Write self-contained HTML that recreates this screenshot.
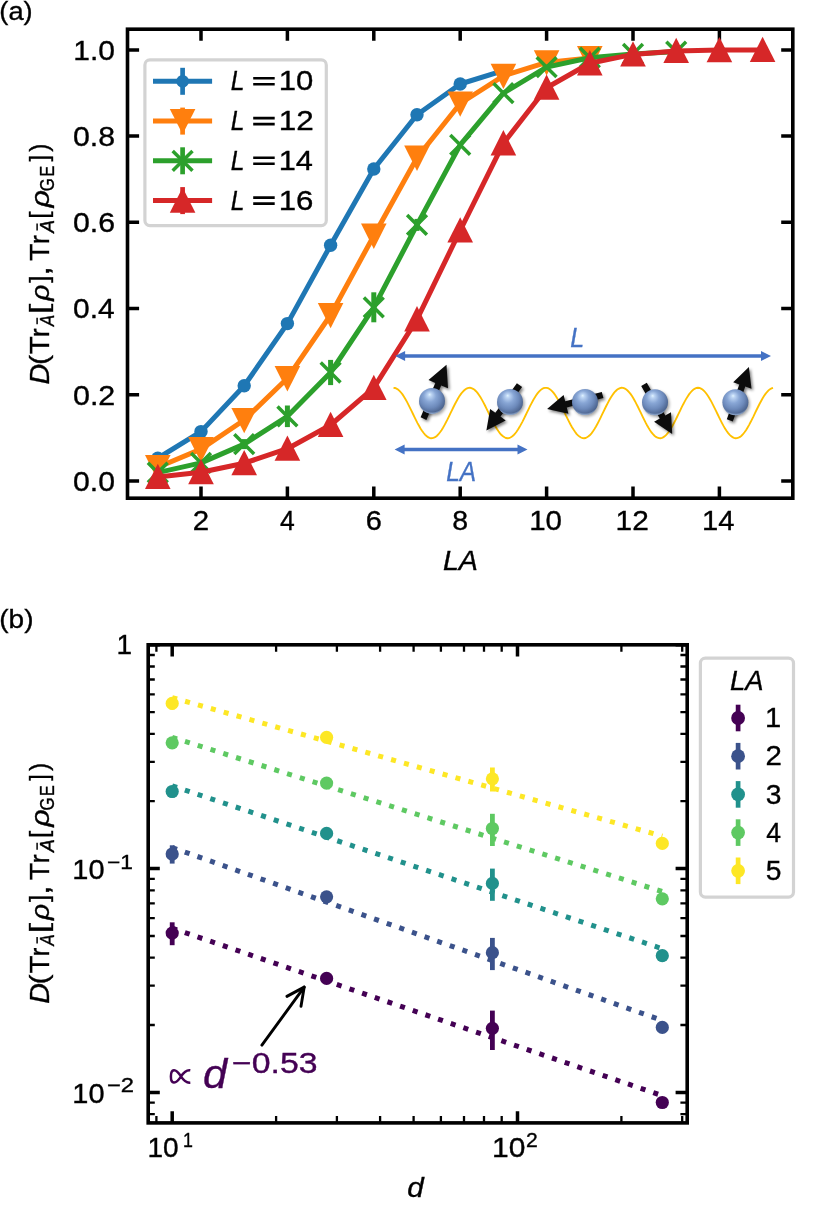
<!DOCTYPE html>
<html><head><meta charset="utf-8"><title>figure</title>
<style>
html,body{margin:0;padding:0;background:#fff;}
body{width:830px;height:1210px;overflow:hidden;font-family:"Liberation Sans",sans-serif;}
svg{display:block;will-change:transform;}
text{font-family:"Liberation Sans",sans-serif;stroke-width:0.35px;paint-order:stroke;}
</style></head><body>
<svg width="830" height="1210" viewBox="0 0 830 1210">
<defs>
<radialGradient id="ball" cx="0.44" cy="0.42" r="0.72" fx="0.41" fy="0.25">
<stop offset="0" stop-color="#e0f4ff"/><stop offset="0.1" stop-color="#bcd4f3"/><stop offset="0.33" stop-color="#88a6d5"/><stop offset="0.58" stop-color="#6d8abb"/><stop offset="0.82" stop-color="#4d658f"/><stop offset="1" stop-color="#3a4e70"/>
</radialGradient>
<radialGradient id="rim" cx="0.5" cy="0.36" r="0.655">
<stop offset="0.86" stop-color="#b4cff2" stop-opacity="0"/><stop offset="1" stop-color="#b9d3f5" stop-opacity="0.9"/>
</radialGradient>
<filter id="sh" x="-30%" y="-30%" width="170%" height="170%"><feGaussianBlur stdDeviation="1.6"/></filter>
</defs>
<rect x="0" y="0" width="830" height="1210" fill="#fff"/>

<g id="panelA">
<path d="M201.0,498.2V486.59999999999997M201.0,29.2V40.8M287.4,498.2V486.59999999999997M287.4,29.2V40.8M373.8,498.2V486.59999999999997M373.8,29.2V40.8M460.2,498.2V486.59999999999997M460.2,29.2V40.8M546.6,498.2V486.59999999999997M546.6,29.2V40.8M633.0,498.2V486.59999999999997M633.0,29.2V40.8M719.4,498.2V486.59999999999997M719.4,29.2V40.8M127.5,481.0H139.1M792.8,481.0H781.1999999999999M127.5,394.8H139.1M792.8,394.8H781.1999999999999M127.5,308.6H139.1M792.8,308.6H781.1999999999999M127.5,222.3H139.1M792.8,222.3H781.1999999999999M127.5,136.1H139.1M792.8,136.1H781.1999999999999M127.5,49.9H139.1M792.8,49.9H781.1999999999999" stroke="#000" stroke-width="3.5" fill="none"/>
<polyline points="157.8,458.2 201.0,431.6 244.2,385.8 287.4,323.6 330.6,245.2 373.8,169.0 417.0,114.8 460.2,84.0 503.4,70.6" fill="none" stroke="#1f77b4" stroke-width="5.0" stroke-linejoin="round" stroke-linecap="square"/>
<circle cx="157.8" cy="458.2" r="6.7" fill="#1f77b4"/>
<circle cx="201.0" cy="431.6" r="6.7" fill="#1f77b4"/>
<circle cx="244.2" cy="385.8" r="6.7" fill="#1f77b4"/>
<circle cx="287.4" cy="323.6" r="6.7" fill="#1f77b4"/>
<circle cx="330.6" cy="245.2" r="6.7" fill="#1f77b4"/>
<circle cx="373.8" cy="169.0" r="6.7" fill="#1f77b4"/>
<circle cx="417.0" cy="114.8" r="6.7" fill="#1f77b4"/>
<circle cx="460.2" cy="84.0" r="6.7" fill="#1f77b4"/>
<circle cx="503.4" cy="70.6" r="6.7" fill="#1f77b4"/>
<polyline points="157.8,467.2 201.0,449.1 244.2,420.0 287.4,378.2 330.6,315.0 373.8,235.7 417.0,157.7 460.2,103.5 503.4,75.8 546.6,62.4 589.8,58.1" fill="none" stroke="#ff7f0e" stroke-width="5.0" stroke-linejoin="round" stroke-linecap="square"/>
<polygon points="157.8,480.4 145.0,455.1 170.6,455.1" fill="#ff7f0e"/>
<polygon points="201.0,462.3 188.2,437.0 213.8,437.0" fill="#ff7f0e"/>
<polygon points="244.2,433.2 231.4,407.9 257.0,407.9" fill="#ff7f0e"/>
<polygon points="287.4,391.4 274.6,366.1 300.2,366.1" fill="#ff7f0e"/>
<polygon points="330.6,328.2 317.8,302.9 343.4,302.9" fill="#ff7f0e"/>
<polygon points="373.8,248.9 361.0,223.6 386.6,223.6" fill="#ff7f0e"/>
<polygon points="417.0,170.9 404.2,145.6 429.8,145.6" fill="#ff7f0e"/>
<polygon points="460.2,116.7 447.4,91.4 473.0,91.4" fill="#ff7f0e"/>
<polygon points="503.4,89.0 490.6,63.7 516.2,63.7" fill="#ff7f0e"/>
<polygon points="546.6,75.6 533.8,50.3 559.4,50.3" fill="#ff7f0e"/>
<polygon points="589.8,71.3 577.0,46.0 602.6,46.0" fill="#ff7f0e"/>
<polyline points="157.8,472.6 201.0,462.9 244.2,444.1 287.4,416.3 330.6,372.5 373.8,307.3 417.0,224.9 460.2,144.9 503.4,93.1 546.6,67.1 589.8,57.7 633.0,54.0 676.2,51.6" fill="none" stroke="#2ca02c" stroke-width="5.0" stroke-linejoin="round" stroke-linecap="square"/>
<path d="M147.9,462.7L167.7,482.5M147.9,482.5L167.7,462.7" stroke="#2ca02c" stroke-width="3.5" fill="none" stroke-linecap="butt"/>
<path d="M191.1,453.0L210.9,472.8M191.1,472.8L210.9,453.0" stroke="#2ca02c" stroke-width="3.5" fill="none" stroke-linecap="butt"/>
<line x1="244.2" y1="439.1" x2="244.2" y2="449.1" stroke="#2ca02c" stroke-width="5.0"/>
<path d="M234.3,434.2L254.1,454.0M234.3,454.0L254.1,434.2" stroke="#2ca02c" stroke-width="3.5" fill="none" stroke-linecap="butt"/>
<line x1="287.4" y1="405.5" x2="287.4" y2="427.1" stroke="#2ca02c" stroke-width="5.0"/>
<path d="M277.5,406.4L297.3,426.2M277.5,426.2L297.3,406.4" stroke="#2ca02c" stroke-width="3.5" fill="none" stroke-linecap="butt"/>
<line x1="330.6" y1="359.9" x2="330.6" y2="385.1" stroke="#2ca02c" stroke-width="5.0"/>
<path d="M320.7,362.6L340.5,382.4M320.7,382.4L340.5,362.6" stroke="#2ca02c" stroke-width="3.5" fill="none" stroke-linecap="butt"/>
<line x1="373.8" y1="292.3" x2="373.8" y2="322.3" stroke="#2ca02c" stroke-width="5.0"/>
<path d="M363.9,297.4L383.7,317.2M363.9,317.2L383.7,297.4" stroke="#2ca02c" stroke-width="3.5" fill="none" stroke-linecap="butt"/>
<line x1="417.0" y1="218.9" x2="417.0" y2="230.9" stroke="#2ca02c" stroke-width="5.0"/>
<path d="M407.1,215.0L426.9,234.8M407.1,234.8L426.9,215.0" stroke="#2ca02c" stroke-width="3.5" fill="none" stroke-linecap="butt"/>
<path d="M450.3,135.0L470.1,154.8M450.3,154.8L470.1,135.0" stroke="#2ca02c" stroke-width="3.5" fill="none" stroke-linecap="butt"/>
<path d="M493.5,83.2L513.3,103.0M493.5,103.0L513.3,83.2" stroke="#2ca02c" stroke-width="3.5" fill="none" stroke-linecap="butt"/>
<path d="M536.7,57.2L556.5,77.0M536.7,77.0L556.5,57.2" stroke="#2ca02c" stroke-width="3.5" fill="none" stroke-linecap="butt"/>
<path d="M579.9,47.8L599.7,67.6M579.9,67.6L599.7,47.8" stroke="#2ca02c" stroke-width="3.5" fill="none" stroke-linecap="butt"/>
<path d="M623.1,44.1L642.9,63.9M623.1,63.9L642.9,44.1" stroke="#2ca02c" stroke-width="3.5" fill="none" stroke-linecap="butt"/>
<path d="M666.3,41.7L686.1,61.5M666.3,61.5L686.1,41.7" stroke="#2ca02c" stroke-width="3.5" fill="none" stroke-linecap="butt"/>
<polyline points="157.8,476.9 201.0,472.2 244.2,463.2 287.4,448.7 330.6,425.0 373.8,387.9 417.0,319.3 460.2,230.5 503.4,143.3 546.6,87.7 589.8,63.3 633.0,54.4 676.2,51.0 719.4,50.1 762.6,49.9" fill="none" stroke="#d62728" stroke-width="5.0" stroke-linejoin="round" stroke-linecap="square"/>
<polygon points="157.8,463.7 145.0,489.0 170.6,489.0" fill="#d62728"/>
<polygon points="201.0,459.0 188.2,484.3 213.8,484.3" fill="#d62728"/>
<polygon points="244.2,450.0 231.4,475.3 257.0,475.3" fill="#d62728"/>
<polygon points="287.4,435.5 274.6,460.8 300.2,460.8" fill="#d62728"/>
<polygon points="330.6,411.8 317.8,437.1 343.4,437.1" fill="#d62728"/>
<polygon points="373.8,374.7 361.0,400.0 386.6,400.0" fill="#d62728"/>
<polygon points="417.0,306.1 404.2,331.4 429.8,331.4" fill="#d62728"/>
<polygon points="460.2,217.3 447.4,242.6 473.0,242.6" fill="#d62728"/>
<polygon points="503.4,130.1 490.6,155.4 516.2,155.4" fill="#d62728"/>
<polygon points="546.6,74.5 533.8,99.8 559.4,99.8" fill="#d62728"/>
<polygon points="589.8,50.1 577.0,75.4 602.6,75.4" fill="#d62728"/>
<polygon points="633.0,41.2 620.2,66.5 645.8,66.5" fill="#d62728"/>
<polygon points="676.2,37.8 663.4,63.1 689.0,63.1" fill="#d62728"/>
<polygon points="719.4,36.9 706.6,62.2 732.2,62.2" fill="#d62728"/>
<polygon points="762.6,36.7 749.8,62.0 775.4,62.0" fill="#d62728"/>
<line x1="404.1" y1="355.9" x2="762.0" y2="355.9" stroke="#4472c4" stroke-width="3.5"/>
<polygon points="395.1,355.9 405.1,350.9 405.1,360.9" fill="#4472c4"/>
<polygon points="771.0,355.9 761.0,350.9 761.0,360.9" fill="#4472c4"/>
<line x1="403.6" y1="449.6" x2="518.5" y2="449.6" stroke="#4472c4" stroke-width="3.5"/>
<polygon points="394.6,449.6 404.6,444.6 404.6,454.6" fill="#4472c4"/>
<polygon points="527.5,449.6 517.5,444.6 517.5,454.6" fill="#4472c4"/>
<polyline points="393.5,387.8 395.0,388.0 396.5,388.6 398.0,389.5 399.5,390.8 401.0,392.5 402.5,394.4 404.0,396.7 405.5,399.2 407.0,401.9 408.5,404.8 410.0,407.8 411.5,410.9 413.0,414.0 414.5,417.1 416.0,420.1 417.5,423.1 419.0,425.8 420.5,428.4 422.0,430.8 423.5,432.8 425.0,434.6 426.5,436.0 428.0,437.1 429.5,437.8 431.0,438.2 432.5,438.1 434.0,437.7 435.5,436.9 437.0,435.7 438.5,434.2 440.0,432.3 441.5,430.2 443.0,427.8 444.5,425.1 446.0,422.3 447.5,419.4 449.0,416.3 450.5,413.2 452.0,410.1 453.5,407.0 455.0,404.0 456.5,401.2 458.0,398.5 459.5,396.1 461.0,393.9 462.5,392.0 464.0,390.5 465.5,389.2 467.0,388.4 468.5,387.9 470.0,387.8 471.5,388.1 473.0,388.8 474.5,389.8 476.0,391.2 477.5,392.9 479.0,395.0 480.5,397.3 482.0,399.9 483.5,402.6 485.0,405.5 486.5,408.6 488.0,411.6 489.5,414.8 491.0,417.9 492.5,420.9 494.0,423.8 495.5,426.5 497.0,429.0 498.5,431.3 500.0,433.3 501.5,435.0 503.0,436.3 504.5,437.3 506.0,438.0 507.5,438.2 509.0,438.1 510.5,437.5 512.0,436.6 513.5,435.3 515.0,433.7 516.5,431.8 518.0,429.6 519.5,427.1 521.0,424.4 522.5,421.6 524.0,418.6 525.5,415.5 527.0,412.4 528.5,409.3 530.0,406.2 531.5,403.3 533.0,400.5 534.5,397.9 536.0,395.5 537.5,393.4 539.0,391.6 540.5,390.1 542.0,389.0 543.5,388.2 545.0,387.8 546.5,387.8 548.0,388.2 549.5,389.0 551.0,390.1 552.5,391.6 554.0,393.4 555.5,395.5 557.0,397.9 558.5,400.5 560.0,403.3 561.5,406.3 563.0,409.3 564.5,412.4 566.0,415.6 567.5,418.6 569.0,421.6 570.5,424.5 572.0,427.2 573.5,429.6 575.0,431.8 576.5,433.8 578.0,435.4 579.5,436.6 581.0,437.5 582.5,438.1 584.0,438.2 585.5,438.0 587.0,437.3 588.5,436.3 590.0,435.0 591.5,433.3 593.0,431.3 594.5,429.0 596.0,426.5 597.5,423.7 599.0,420.8 600.5,417.8 602.0,414.7 603.5,411.6 605.0,408.5 606.5,405.5 608.0,402.6 609.5,399.8 611.0,397.3 612.5,395.0 614.0,392.9 615.5,391.2 617.0,389.8 618.5,388.8 620.0,388.1 621.5,387.8 623.0,387.9 624.5,388.4 626.0,389.3 627.5,390.5 629.0,392.1 630.5,393.9 632.0,396.1 633.5,398.6 635.0,401.2 636.5,404.1 638.0,407.0 639.5,410.1 641.0,413.2 642.5,416.3 644.0,419.4 645.5,422.4 647.0,425.2 648.5,427.8 650.0,430.2 651.5,432.4 653.0,434.2 654.5,435.7 656.0,436.9 657.5,437.7 659.0,438.1 660.5,438.2 662.0,437.8 663.5,437.1 665.0,436.0 666.5,434.6 668.0,432.8 669.5,430.7 671.0,428.4 672.5,425.8 674.0,423.0 675.5,420.1 677.0,417.0 678.5,413.9 680.0,410.8 681.5,407.7 683.0,404.7 684.5,401.9 686.0,399.1 687.5,396.7 689.0,394.4 690.5,392.5 692.0,390.8 693.5,389.5 695.0,388.6 696.5,388.0 698.0,387.8 699.5,388.0 701.0,388.6 702.5,389.5 704.0,390.8 705.5,392.5 707.0,394.5 708.5,396.7 710.0,399.2 711.5,401.9 713.0,404.8 714.5,407.8 716.0,410.9 717.5,414.0 719.0,417.1 720.5,420.2 722.0,423.1 723.5,425.9 725.0,428.4 726.5,430.8 728.0,432.9 729.5,434.6 731.0,436.1 732.5,437.1 734.0,437.8 735.5,438.2 737.0,438.1 738.5,437.7 740.0,436.9 741.5,435.7 743.0,434.2 744.5,432.3 746.0,430.2 747.5,427.7 749.0,425.1 750.5,422.3 752.0,419.3 753.5,416.3 755.0,413.1 756.5,410.0 758.0,407.0 759.5,404.0 761.0,401.2 762.5,398.5 764.0,396.1 765.5,393.9 767.0,392.0 768.5,390.4 770.0,389.2 771.5,388.4 773.0,387.9" fill="none" stroke="#ffc000" stroke-width="1.85"/>
<path d="M426.4,419.9L441.2,385.4L448.0,388.3L446.5,364.8L428.5,379.9L435.3,382.9L420.6,417.3Z" fill="#000" opacity="0.5" filter="url(#sh)" transform="translate(1.7,1.9)"/>
<path d="M426.4,419.9L441.2,385.4L448.0,388.3L446.5,364.8L428.5,379.9L435.3,382.9L420.6,417.3Z" fill="#0c0c0c"/>
<circle cx="433.5" cy="402.7" r="13.0" fill="#000" opacity="0.35" filter="url(#sh)"/>
<circle cx="432.0" cy="400.9" r="13.0" fill="url(#ball)"/>
<circle cx="432.0" cy="400.9" r="13.0" fill="url(#rim)"/>
<path d="M516.9,383.3L495.3,412.8L490.1,408.9L486.4,430.4L505.7,420.4L500.5,416.6L522.1,387.1Z" fill="#000" opacity="0.5" filter="url(#sh)" transform="translate(1.7,1.9)"/>
<path d="M516.9,383.3L495.3,412.8L490.1,408.9L486.4,430.4L505.7,420.4L500.5,416.6L522.1,387.1Z" fill="#0c0c0c"/>
<circle cx="511.5" cy="403.8" r="13.0" fill="#000" opacity="0.35" filter="url(#sh)"/>
<circle cx="510.0" cy="402.0" r="13.0" fill="url(#ball)"/>
<circle cx="510.0" cy="402.0" r="13.0" fill="url(#rim)"/>
<path d="M601.8,391.9L565.2,401.2L563.6,394.9L547.1,409.1L568.4,413.7L566.8,407.4L603.4,398.1Z" fill="#000" opacity="0.5" filter="url(#sh)" transform="translate(1.7,1.9)"/>
<path d="M601.8,391.9L565.2,401.2L563.6,394.9L547.1,409.1L568.4,413.7L566.8,407.4L603.4,398.1Z" fill="#0c0c0c"/>
<circle cx="586.5" cy="403.8" r="13.0" fill="#000" opacity="0.35" filter="url(#sh)"/>
<circle cx="585.0" cy="402.0" r="13.0" fill="url(#ball)"/>
<circle cx="585.0" cy="402.0" r="13.0" fill="url(#rim)"/>
<path d="M641.2,385.9L659.8,418.5L654.1,421.7L672.2,433.9L671.0,412.2L665.3,415.4L646.8,382.7Z" fill="#000" opacity="0.5" filter="url(#sh)" transform="translate(1.7,1.9)"/>
<path d="M641.2,385.9L659.8,418.5L654.1,421.7L672.2,433.9L671.0,412.2L665.3,415.4L646.8,382.7Z" fill="#0c0c0c"/>
<circle cx="656.5" cy="404.0" r="13.0" fill="#000" opacity="0.35" filter="url(#sh)"/>
<circle cx="655.0" cy="402.2" r="13.0" fill="url(#ball)"/>
<circle cx="655.0" cy="402.2" r="13.0" fill="url(#rim)"/>
<path d="M732.8,421.5L745.3,386.5L751.5,388.7L748.9,367.1L733.2,382.2L739.3,384.4L726.8,419.3Z" fill="#000" opacity="0.5" filter="url(#sh)" transform="translate(1.7,1.9)"/>
<path d="M732.8,421.5L745.3,386.5L751.5,388.7L748.9,367.1L733.2,382.2L739.3,384.4L726.8,419.3Z" fill="#0c0c0c"/>
<circle cx="736.9" cy="404.0" r="13.0" fill="#000" opacity="0.35" filter="url(#sh)"/>
<circle cx="735.4" cy="402.2" r="13.0" fill="url(#ball)"/>
<circle cx="735.4" cy="402.2" r="13.0" fill="url(#rim)"/>
<text transform="translate(570.25,346.60) scale(0.9066,1)" font-size="27.64" fill="#4472c4" stroke="#4472c4" font-style="italic">L</text>
<text transform="translate(446.27,480.60) scale(0.8843,1)" font-size="27.64" fill="#4472c4" stroke="#4472c4" font-style="italic">LA</text>
<rect x="127.5" y="29.2" width="665.3" height="469.0" fill="none" stroke="#000" stroke-width="3.6"/>
<rect x="144.9" y="59.9" width="181.4" height="165.7" rx="5" ry="5" fill="#fff" fill-opacity="0.8" stroke="#d3d3d3" stroke-width="3.2"/>
<line x1="153" y1="81.3" x2="212.1" y2="81.3" stroke="#1f77b4" stroke-width="5.0"/>
<line x1="182.6" y1="67.8" x2="182.6" y2="94.8" stroke="#1f77b4" stroke-width="4.7"/>
<circle cx="182.6" cy="81.3" r="6.3" fill="#1f77b4"/>
<text transform="translate(230.86,90.40) scale(0.8907,1)" font-size="27.64" fill="#000" stroke="#000" font-style="italic">L</text>
<path d="M253.2,78.3H274.7M253.2,84.3H274.7" stroke="#000" stroke-width="2.6" fill="none"/>
<text transform="translate(278.67,90.40) scale(1.1409,1)" font-size="27.24" fill="#000" stroke="#000">10</text>
<line x1="153" y1="121.1" x2="212.1" y2="121.1" stroke="#ff7f0e" stroke-width="5.0"/>
<line x1="182.6" y1="107.6" x2="182.6" y2="134.6" stroke="#ff7f0e" stroke-width="4.7"/>
<polygon points="182.6,134.3 169.8,109.0 195.4,109.0" fill="#ff7f0e"/>
<text transform="translate(230.86,130.20) scale(0.8907,1)" font-size="27.64" fill="#000" stroke="#000" font-style="italic">L</text>
<path d="M253.2,118.1H274.7M253.2,124.1H274.7" stroke="#000" stroke-width="2.6" fill="none"/>
<text transform="translate(278.64,130.20) scale(1.1554,1)" font-size="27.24" fill="#000" stroke="#000">12</text>
<line x1="153" y1="160.8" x2="212.1" y2="160.8" stroke="#2ca02c" stroke-width="5.0"/>
<line x1="182.6" y1="147.3" x2="182.6" y2="174.3" stroke="#2ca02c" stroke-width="4.7"/>
<path d="M172.7,150.9L192.5,170.7M172.7,170.7L192.5,150.9" stroke="#2ca02c" stroke-width="3.5" fill="none" stroke-linecap="butt"/>
<text transform="translate(230.86,169.90) scale(0.8907,1)" font-size="27.64" fill="#000" stroke="#000" font-style="italic">L</text>
<path d="M253.2,157.8H274.7M253.2,163.8H274.7" stroke="#000" stroke-width="2.6" fill="none"/>
<text transform="translate(278.69,169.90) scale(1.1134,1)" font-size="27.64" fill="#000" stroke="#000">14</text>
<line x1="153" y1="200.6" x2="212.1" y2="200.6" stroke="#d62728" stroke-width="5.0"/>
<line x1="182.6" y1="187.1" x2="182.6" y2="214.1" stroke="#d62728" stroke-width="4.7"/>
<polygon points="182.6,187.4 169.8,212.7 195.4,212.7" fill="#d62728"/>
<text transform="translate(230.86,209.70) scale(0.8907,1)" font-size="27.64" fill="#000" stroke="#000" font-style="italic">L</text>
<path d="M253.2,197.6H274.7M253.2,203.6H274.7" stroke="#000" stroke-width="2.6" fill="none"/>
<text transform="translate(278.66,209.70) scale(1.1466,1)" font-size="27.24" fill="#000" stroke="#000">16</text>
<text transform="translate(72.99,490.90) scale(1.1076,1)" font-size="27.24" fill="#000" stroke="#000">0.0</text>
<text transform="translate(72.98,404.68) scale(1.1183,1)" font-size="27.24" fill="#000" stroke="#000">0.2</text>
<text transform="translate(73.00,318.46) scale(1.0992,1)" font-size="27.24" fill="#000" stroke="#000">0.4</text>
<text transform="translate(72.99,232.24) scale(1.1118,1)" font-size="27.24" fill="#000" stroke="#000">0.6</text>
<text transform="translate(72.99,146.02) scale(1.1118,1)" font-size="27.24" fill="#000" stroke="#000">0.8</text>
<text transform="translate(73.25,59.80) scale(1.1006,1)" font-size="27.24" fill="#000" stroke="#000">1.0</text>
<text transform="translate(192.83,530.40) scale(1.0811,1)" font-size="27.24" fill="#000" stroke="#000">2</text>
<text transform="translate(280.10,530.40) scale(0.9601,1)" font-size="27.64" fill="#000" stroke="#000">4</text>
<text transform="translate(365.65,530.40) scale(1.0636,1)" font-size="27.24" fill="#000" stroke="#000">6</text>
<text transform="translate(452.29,530.40) scale(1.0466,1)" font-size="27.24" fill="#000" stroke="#000">8</text>
<text transform="translate(529.19,530.40) scale(1.0820,1)" font-size="27.24" fill="#000" stroke="#000">10</text>
<text transform="translate(615.56,530.40) scale(1.0957,1)" font-size="27.24" fill="#000" stroke="#000">12</text>
<text transform="translate(702.01,530.40) scale(1.0559,1)" font-size="27.64" fill="#000" stroke="#000">14</text>
<text transform="translate(442.94,569.80) scale(1.0370,1)" font-size="27.64" fill="#000" stroke="#000" font-style="italic">LA</text>
<text transform="translate(-0.70,19.50) scale(1.0695,1)" font-size="25.50" fill="#000" stroke="#000">(a)</text>
</g>
<g transform="translate(49.0,383.7) rotate(-90)">
<text transform="translate(-0.86,0.00) scale(1.0362,1)" font-size="27.64" fill="#000" stroke="#000" font-style="italic">D</text>
<text transform="translate(18.61,-0.70) scale(1.1885,1)" font-size="25.40" fill="#000" stroke="#000">(</text>
<text transform="translate(29.54,0.00) scale(1.0631,1)" font-size="27.64" fill="#000" stroke="#000">T</text>
<text transform="translate(46.73,0.00) scale(0.9534,1)" font-size="27.00" fill="#000" stroke="#000">r</text>
<text transform="translate(57.35,4.90) scale(0.8686,1)" font-size="19.64" fill="#000" stroke="#000" font-style="italic">A</text>
<text transform="translate(69.47,-0.70) scale(1.4764,1)" font-size="25.40" fill="#000" stroke="#000">[</text>
<text transform="translate(83.01,0.00) scale(1.0665,1)" font-size="26.60" fill="#000" stroke="#000" font-style="italic">ρ</text>
<text transform="translate(100.90,-0.70) scale(1.0630,1)" font-size="25.40" fill="#000" stroke="#000">]</text>
<text transform="translate(108.06,0.00) scale(1.2915,1)" font-size="27.00" fill="#000" stroke="#000">,</text>
<text transform="translate(122.65,0.00) scale(1.0375,1)" font-size="27.64" fill="#000" stroke="#000">T</text>
<text transform="translate(139.52,0.00) scale(1.0121,1)" font-size="27.00" fill="#000" stroke="#000">r</text>
<text transform="translate(150.96,4.90) scale(0.9762,1)" font-size="19.64" fill="#000" stroke="#000" font-style="italic">A</text>
<text transform="translate(164.88,-0.70) scale(1.0236,1)" font-size="25.40" fill="#000" stroke="#000">[</text>
<text transform="translate(176.17,0.00) scale(1.1527,1)" font-size="26.60" fill="#000" stroke="#000" font-style="italic">ρ</text>
<text transform="translate(192.56,5.10) scale(0.8507,1)" font-size="19.64" fill="#000" stroke="#000">G</text>
<text transform="translate(207.08,5.10) scale(0.8167,1)" font-size="19.64" fill="#000" stroke="#000">E</text>
<text transform="translate(222.13,-0.70) scale(0.9055,1)" font-size="25.40" fill="#000" stroke="#000">]</text>
<text transform="translate(231.92,-0.70) scale(0.9508,1)" font-size="25.40" fill="#000" stroke="#000">)</text>
<line x1="59.5" y1="-11.9" x2="66.0" y2="-11.9" stroke="#000" stroke-width="1.5"/>
<line x1="153.2" y1="-11.9" x2="160.2" y2="-11.9" stroke="#000" stroke-width="1.5"/>
</g>
<g id="panelB">
<path d="M172.2,1122.9V1111.3000000000002M172.2,644.8V656.4M517.5,1122.9V1111.3000000000002M517.5,644.8V656.4M148.2,644.8H159.79999999999998M687.2,644.8H675.6M148.2,868.6H159.79999999999998M687.2,868.6H675.6M148.2,1092.4H159.79999999999998M687.2,1092.4H675.6" stroke="#000" stroke-width="3.5" fill="none"/>
<path d="M156.4,1122.9V1115.9M156.4,644.8V651.8M276.1,1122.9V1115.9M276.1,644.8V651.8M336.9,1122.9V1115.9M336.9,644.8V651.8M380.1,1122.9V1115.9M380.1,644.8V651.8M413.6,1122.9V1115.9M413.6,644.8V651.8M440.9,1122.9V1115.9M440.9,644.8V651.8M464.0,1122.9V1115.9M464.0,644.8V651.8M484.0,1122.9V1115.9M484.0,644.8V651.8M501.7,1122.9V1115.9M501.7,644.8V651.8M621.4,1122.9V1115.9M621.4,644.8V651.8M682.2,1122.9V1115.9M682.2,644.8V651.8M148.2,801.2H154.79999999999998M687.2,801.2H680.4000000000001M148.2,761.8H154.79999999999998M687.2,761.8H680.4000000000001M148.2,733.9H154.79999999999998M687.2,733.9H680.4000000000001M148.2,712.2H154.79999999999998M687.2,712.2H680.4000000000001M148.2,694.4H154.79999999999998M687.2,694.4H680.4000000000001M148.2,679.5H154.79999999999998M687.2,679.5H680.4000000000001M148.2,666.5H154.79999999999998M687.2,666.5H680.4000000000001M148.2,655.0H154.79999999999998M687.2,655.0H680.4000000000001M148.2,1025.0H154.79999999999998M687.2,1025.0H680.4000000000001M148.2,985.6H154.79999999999998M687.2,985.6H680.4000000000001M148.2,957.7H154.79999999999998M687.2,957.7H680.4000000000001M148.2,936.0H154.79999999999998M687.2,936.0H680.4000000000001M148.2,918.2H154.79999999999998M687.2,918.2H680.4000000000001M148.2,903.3H154.79999999999998M687.2,903.3H680.4000000000001M148.2,890.3H154.79999999999998M687.2,890.3H680.4000000000001M148.2,878.8H154.79999999999998M687.2,878.8H680.4000000000001M148.2,1114.1H154.79999999999998M687.2,1114.1H680.4000000000001M148.2,1102.6H154.79999999999998M687.2,1102.6H680.4000000000001" stroke="#000" stroke-width="2.3" fill="none"/>
<line x1="172.2" y1="928.2" x2="662.3" y2="1095.7" stroke="#440154" stroke-width="5.05" stroke-dasharray="5.05 8.33" stroke-dashoffset="0"/>
<line x1="172.2" y1="847.6" x2="662.3" y2="1020.5" stroke="#3b528b" stroke-width="5.05" stroke-dasharray="5.05 8.33" stroke-dashoffset="0"/>
<line x1="172.2" y1="785.9" x2="662.3" y2="948.7" stroke="#21918c" stroke-width="5.05" stroke-dasharray="5.05 8.33" stroke-dashoffset="0"/>
<line x1="172.2" y1="737.4" x2="662.3" y2="891.6" stroke="#5ec962" stroke-width="5.05" stroke-dasharray="5.05 8.33" stroke-dashoffset="0"/>
<line x1="172.2" y1="697.6" x2="662.3" y2="836.1" stroke="#fde725" stroke-width="5.05" stroke-dasharray="5.05 8.33" stroke-dashoffset="0"/>
<line x1="172.2" y1="922.3" x2="172.2" y2="945.2" stroke="#440154" stroke-width="4.8"/>
<circle cx="172.2" cy="933.1" r="6.6" fill="#440154"/>
<line x1="326.6" y1="975.6" x2="326.6" y2="981.4" stroke="#440154" stroke-width="4.8"/>
<circle cx="326.6" cy="978.4" r="6.6" fill="#440154"/>
<line x1="492.4" y1="1010.6" x2="492.4" y2="1050.0" stroke="#440154" stroke-width="4.8"/>
<circle cx="492.4" cy="1028.3" r="6.6" fill="#440154"/>
<circle cx="662.3" cy="1102.5" r="6.6" fill="#440154"/>
<line x1="172.2" y1="845.3" x2="172.2" y2="863.6" stroke="#3b528b" stroke-width="4.8"/>
<circle cx="172.2" cy="854.0" r="6.6" fill="#3b528b"/>
<circle cx="326.6" cy="896.8" r="6.6" fill="#3b528b"/>
<line x1="492.4" y1="937.9" x2="492.4" y2="970.1" stroke="#3b528b" stroke-width="4.8"/>
<circle cx="492.4" cy="952.7" r="6.6" fill="#3b528b"/>
<circle cx="662.3" cy="1027.4" r="6.6" fill="#3b528b"/>
<line x1="172.2" y1="785.9" x2="172.2" y2="797.5" stroke="#21918c" stroke-width="4.8"/>
<circle cx="172.2" cy="791.5" r="6.6" fill="#21918c"/>
<circle cx="326.6" cy="833.4" r="6.6" fill="#21918c"/>
<line x1="492.4" y1="868.6" x2="492.4" y2="900.8" stroke="#21918c" stroke-width="4.8"/>
<circle cx="492.4" cy="883.4" r="6.6" fill="#21918c"/>
<circle cx="662.3" cy="955.7" r="6.6" fill="#21918c"/>
<line x1="172.2" y1="737.1" x2="172.2" y2="748.8" stroke="#5ec962" stroke-width="4.8"/>
<circle cx="172.2" cy="742.8" r="6.6" fill="#5ec962"/>
<circle cx="326.6" cy="783.1" r="6.6" fill="#5ec962"/>
<line x1="492.4" y1="813.8" x2="492.4" y2="846.0" stroke="#5ec962" stroke-width="4.8"/>
<circle cx="492.4" cy="828.5" r="6.6" fill="#5ec962"/>
<circle cx="662.3" cy="898.8" r="6.6" fill="#5ec962"/>
<line x1="172.2" y1="697.8" x2="172.2" y2="709.5" stroke="#fde725" stroke-width="4.8"/>
<circle cx="172.2" cy="703.4" r="6.6" fill="#fde725"/>
<line x1="326.6" y1="733.5" x2="326.6" y2="741.3" stroke="#fde725" stroke-width="4.8"/>
<circle cx="326.6" cy="737.3" r="6.6" fill="#fde725"/>
<line x1="492.4" y1="767.5" x2="492.4" y2="791.5" stroke="#fde725" stroke-width="4.8"/>
<circle cx="492.4" cy="778.8" r="6.6" fill="#fde725"/>
<circle cx="662.3" cy="843.4" r="6.6" fill="#fde725"/>
<path d="M261.9,1045.2L304.2,987.1" stroke="#000" stroke-width="2.9" stroke-linecap="round" fill="none"/>
<path d="M286.9,996.4L304.2,987.1L301.0,1006.2" stroke="#000" stroke-width="2.9" stroke-linecap="round" stroke-linejoin="round" fill="none"/>
<path d="M190.3,1070.2 C186.0,1069.6 183.4,1072.6 181.0,1076.4 C178.6,1080.2 176.6,1082.8 173.9,1082.6 C171.9,1082.4 170.9,1079.6 170.9,1076.4 C170.9,1073.2 171.9,1070.4 173.9,1070.2 C176.6,1070.0 178.6,1072.6 181.0,1076.4 C183.4,1080.2 186.0,1083.2 190.3,1082.6" stroke="#440154" stroke-width="2.5" fill="none"/>
<text transform="translate(203.09,1087.80) scale(1.0458,1)" font-size="41.38" fill="#440154" stroke="#440154" font-style="italic">d</text>
<text transform="translate(232.01,1072.80) scale(1.1673,1)" font-size="28.96" fill="#440154" stroke="#440154">−0.53</text>
<rect x="148.2" y="644.8" width="539.0" height="478.10000000000014" fill="none" stroke="#000" stroke-width="3.6"/>
<rect x="700.4" y="658.1" width="93.1" height="239.0" rx="5" ry="5" fill="#fff" fill-opacity="0.8" stroke="#d3d3d3" stroke-width="3.2"/>
<text transform="translate(729.88,689.70) scale(0.9621,1)" font-size="28.51" fill="#000" stroke="#000" font-style="italic">LA</text>
<line x1="738.1" y1="704.7" x2="738.1" y2="731.3" stroke="#440154" stroke-width="4.7"/>
<circle cx="738.1" cy="718.0" r="6.9" fill="#440154"/>
<text transform="translate(765.12,727.20) scale(1.0542,1)" font-size="27.64" fill="#000" stroke="#000">1</text>
<line x1="738.1" y1="742.9" x2="738.1" y2="769.5" stroke="#3b528b" stroke-width="4.7"/>
<circle cx="738.1" cy="756.2" r="6.9" fill="#3b528b"/>
<text transform="translate(765.43,765.40) scale(1.0811,1)" font-size="27.24" fill="#000" stroke="#000">2</text>
<line x1="738.1" y1="781.1" x2="738.1" y2="807.7" stroke="#21918c" stroke-width="4.7"/>
<circle cx="738.1" cy="794.4" r="6.9" fill="#21918c"/>
<text transform="translate(765.84,803.60) scale(1.0356,1)" font-size="27.24" fill="#000" stroke="#000">3</text>
<line x1="738.1" y1="819.3" x2="738.1" y2="845.9" stroke="#5ec962" stroke-width="4.7"/>
<circle cx="738.1" cy="832.6" r="6.9" fill="#5ec962"/>
<text transform="translate(766.30,841.80) scale(0.9601,1)" font-size="27.64" fill="#000" stroke="#000">4</text>
<line x1="738.1" y1="857.5" x2="738.1" y2="884.1" stroke="#fde725" stroke-width="4.7"/>
<circle cx="738.1" cy="870.8" r="6.9" fill="#fde725"/>
<text transform="translate(765.77,880.00) scale(1.0208,1)" font-size="27.64" fill="#000" stroke="#000">5</text>
<text transform="translate(116.50,654.30) scale(1.0018,1)" font-size="27.93" fill="#000" stroke="#000">1</text>
<text transform="translate(72.33,878.80) scale(1.0636,1)" font-size="27.24" fill="#000" stroke="#000">10</text>
<text transform="translate(107.06,868.60) scale(1.1408,1)" font-size="19.93" fill="#000" stroke="#000">−1</text>
<text transform="translate(72.33,1102.60) scale(1.0636,1)" font-size="27.24" fill="#000" stroke="#000">10</text>
<text transform="translate(107.01,1092.40) scale(1.2092,1)" font-size="19.64" fill="#000" stroke="#000">−2</text>
<text transform="translate(147.49,1157.20) scale(1.0305,1)" font-size="27.24" fill="#000" stroke="#000">10</text>
<text transform="translate(182.96,1147.00) scale(0.8934,1)" font-size="19.93" fill="#000" stroke="#000">1</text>
<text transform="translate(492.05,1157.30) scale(1.1004,1)" font-size="27.24" fill="#000" stroke="#000">10</text>
<text transform="translate(525.95,1147.10) scale(1.0742,1)" font-size="19.64" fill="#000" stroke="#000">2</text>
<text transform="translate(407.24,1197.00) scale(1.0584,1)" font-size="28.00" fill="#000" stroke="#000" font-style="italic">d</text>
<text transform="translate(-0.75,627.60) scale(1.0980,1)" font-size="25.50" fill="#000" stroke="#000">(b)</text>
</g>
<g transform="translate(49.0,1003.0) rotate(-90)">
<text transform="translate(-0.86,0.00) scale(1.0362,1)" font-size="27.64" fill="#000" stroke="#000" font-style="italic">D</text>
<text transform="translate(18.61,-0.70) scale(1.1885,1)" font-size="25.40" fill="#000" stroke="#000">(</text>
<text transform="translate(29.54,0.00) scale(1.0631,1)" font-size="27.64" fill="#000" stroke="#000">T</text>
<text transform="translate(46.73,0.00) scale(0.9534,1)" font-size="27.00" fill="#000" stroke="#000">r</text>
<text transform="translate(57.35,4.90) scale(0.8686,1)" font-size="19.64" fill="#000" stroke="#000" font-style="italic">A</text>
<text transform="translate(69.47,-0.70) scale(1.4764,1)" font-size="25.40" fill="#000" stroke="#000">[</text>
<text transform="translate(83.01,0.00) scale(1.0665,1)" font-size="26.60" fill="#000" stroke="#000" font-style="italic">ρ</text>
<text transform="translate(100.90,-0.70) scale(1.0630,1)" font-size="25.40" fill="#000" stroke="#000">]</text>
<text transform="translate(108.06,0.00) scale(1.2915,1)" font-size="27.00" fill="#000" stroke="#000">,</text>
<text transform="translate(122.65,0.00) scale(1.0375,1)" font-size="27.64" fill="#000" stroke="#000">T</text>
<text transform="translate(139.52,0.00) scale(1.0121,1)" font-size="27.00" fill="#000" stroke="#000">r</text>
<text transform="translate(150.96,4.90) scale(0.9762,1)" font-size="19.64" fill="#000" stroke="#000" font-style="italic">A</text>
<text transform="translate(164.88,-0.70) scale(1.0236,1)" font-size="25.40" fill="#000" stroke="#000">[</text>
<text transform="translate(176.17,0.00) scale(1.1527,1)" font-size="26.60" fill="#000" stroke="#000" font-style="italic">ρ</text>
<text transform="translate(192.56,5.10) scale(0.8507,1)" font-size="19.64" fill="#000" stroke="#000">G</text>
<text transform="translate(207.08,5.10) scale(0.8167,1)" font-size="19.64" fill="#000" stroke="#000">E</text>
<text transform="translate(222.13,-0.70) scale(0.9055,1)" font-size="25.40" fill="#000" stroke="#000">]</text>
<text transform="translate(231.92,-0.70) scale(0.9508,1)" font-size="25.40" fill="#000" stroke="#000">)</text>
<line x1="59.5" y1="-11.9" x2="66.0" y2="-11.9" stroke="#000" stroke-width="1.5"/>
<line x1="153.2" y1="-11.9" x2="160.2" y2="-11.9" stroke="#000" stroke-width="1.5"/>
</g>
</svg></body></html>
